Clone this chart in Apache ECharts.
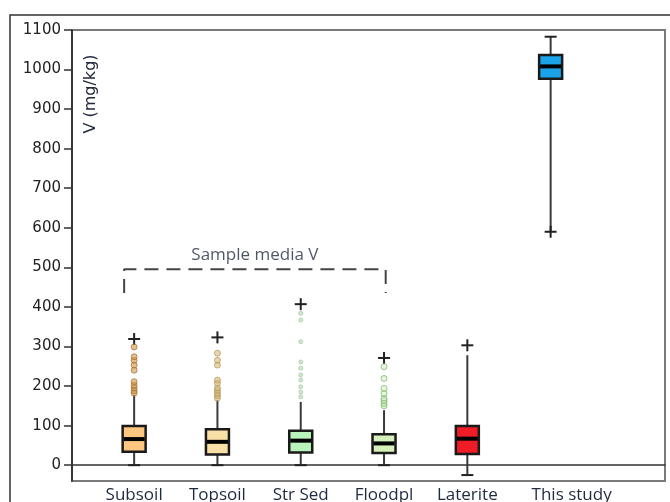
<!DOCTYPE html>
<html>
<head>
<meta charset="utf-8">
<title>V (mg/kg) by sample media</title>
<script src="https://cdn.jsdelivr.net/npm/echarts@6/dist/echarts.min.js"></script>
<style>
  html, body { margin: 0; padding: 0; background: #ffffff; }
  #chart { width: 670px; height: 502px; }
</style>
</head>
<body>
<div id="chart"></div>
<script>
// Sample media, in plotting order
const categories = ['Subsoil', 'Topsoil', 'Str Sed', 'Floodpl', 'Laterite', 'This study'];

// Box statistics for V (mg/kg)
const whiskerLow  = [0, 0, 0, 0, -25, 590];
const quartile1   = [34, 27, 32, 31, 28, 977];
const medians     = [66, 59, 62, 55, 67, 1008];
const quartile3   = [99, 91, 87, 78, 99, 1037];
const whiskerHigh = [177, 164, 160, 139, 278, 1083];
// Extreme values, drawn as '+'
const extremes    = [319, 323, 407, 271, 303, 590];

// Outlying samples above the whiskers
const subsoilOutliers  = [182, 188, 195, 202, 211, 240, 253, 265, 274, 299];
const topsoilOutliers  = [169, 176, 182, 189, 195, 207, 215, 253, 265, 283];
const strSedOutliers   = [173, 185, 198, 215, 228, 245, 261, 312, 367, 384];
const floodplOutliers  = [150, 156, 163, 169, 181, 194, 219, 249];

// Y axis tick labels
const yTicks = [0, 100, 200, 300, 400, 500, 600, 700, 800, 900, 1000, 1100];

// Bracket grouping the four regional sample media
const bracketLabel = 'Sample media V';
const bracketTop = 495;
const bracketFoot = 435;

const boxColors = ['#fdc57f', '#f8dfa6', '#b9f2bb', '#d6f0bb', '#ee1c25', '#1aa3e8'];
const outlierStyles = [
  { color: 'rgba(214,150,70,0.75)', border: 'rgba(150,100,40,0.8)', size: 6 },
  { color: 'rgba(215,180,110,0.7)', border: 'rgba(160,130,70,0.7)', size: 6 },
  { color: 'rgba(150,205,150,0.55)', border: 'rgba(110,170,110,0.5)', size: 4 },
  { color: 'rgba(200,235,180,0.6)', border: 'rgba(110,170,90,0.8)', size: 6 }
];
const textColor = '#1f2a40';

const pos = i => i + 1;   // category slot on the x value axis

const boxData = categories.map((c, i) => [
  pos(i), whiskerLow[i], quartile1[i], medians[i], quartile3[i], whiskerHigh[i], extremes[i], i
]);

const BOX_W = 23, CAP_W = 12, PLUS_W = 12;

function renderBox(params, api) {
  const x = api.value(0);
  const lo = api.value(1), q1 = api.value(2), md = api.value(3),
        q3 = api.value(4), hi = api.value(5), ext = api.value(6), idx = api.value(7);
  const p = v => api.coord([x, v]);
  const cx = p(md)[0];
  const yLo = p(lo)[1], yQ1 = p(q1)[1], yMd = p(md)[1], yQ3 = p(q3)[1], yHi = p(hi)[1], yExt = p(ext)[1];
  const half = BOX_W / 2;
  const whisker = { stroke: '#3a3a3a', lineWidth: 2 };
  const capY = ext > q3 ? yLo : yHi;
  return {
    type: 'group',
    children: [
      { type: 'line', shape: { x1: cx, y1: yLo, x2: cx, y2: yQ1 }, style: whisker },
      { type: 'line', shape: { x1: cx, y1: yQ3, x2: cx, y2: yHi }, style: whisker },
      { type: 'line', shape: { x1: cx - CAP_W / 2, y1: capY, x2: cx + CAP_W / 2, y2: capY }, style: { stroke: '#222', lineWidth: 2 } },
      { type: 'line', shape: { x1: cx - PLUS_W / 2, y1: yExt, x2: cx + PLUS_W / 2, y2: yExt }, style: { stroke: '#222', lineWidth: 2 } },
      { type: 'line', shape: { x1: cx, y1: yExt - PLUS_W / 2, x2: cx, y2: yExt + PLUS_W / 2 }, style: { stroke: '#222', lineWidth: 2 } },
      { type: 'rect', shape: { x: cx - half, y: yQ3, width: BOX_W, height: yQ1 - yQ3 },
        style: { fill: boxColors[idx], stroke: '#1a1a1a', lineWidth: 2.5 } },
      { type: 'line', shape: { x1: cx - half + 1, y1: yMd, x2: cx + half - 1, y2: yMd }, style: { stroke: '#000', lineWidth: 4 } }
    ]
  };
}

const outlierGroups = [subsoilOutliers, topsoilOutliers, strSedOutliers, floodplOutliers];
const outlierSeries = outlierGroups.map((vals, i) => ({
  type: 'scatter',
  z: 4,
  symbol: 'circle',
  symbolSize: outlierStyles[i].size,
  itemStyle: { color: outlierStyles[i].color, borderColor: outlierStyles[i].border, borderWidth: 1 },
  data: vals.map(v => [pos(i), v]),
  silent: true
}));

const bracketLeft = pos(0) - 0.12;
const bracketRight = pos(3) + 0.02;

const chart = echarts.init(document.getElementById('chart'), null, { renderer: 'canvas' });

chart.setOption({
  animation: false,
  backgroundColor: '#ffffff',
  grid: {
    left: 72, right: 5, top: 30, bottom: 21,
    outerBoundsMode: 'none', containLabel: false,
    show: true, borderColor: '#7a7a7a', borderWidth: 2
  },
  xAxis: {
    type: 'value',
    min: 0.254,
    max: 7.373,
    axisLine: { show: true, lineStyle: { color: '#333', width: 1.5 } },
    axisTick: { show: false },
    splitLine: { show: false },
    axisLabel: {
      customValues: categories.map((c, i) => pos(i)),
      margin: 6,
      fontFamily: 'Open Sans',
      fontSize: 17,
      color: textColor,
      formatter: v => {
        const name = categories[Math.round(v) - 1];
        return name === 'This study' ? '{far|' + name + '}' : name;
      },
      rich: { far: { padding: [0, 0, 0, 42], fontFamily: 'Open Sans', fontSize: 17, color: textColor } }
    }
  },
  yAxis: {
    type: 'value',
    min: -40,
    max: 1100,
    axisLine: { show: true, lineStyle: { color: '#222', width: 1.5 } },
    axisTick: { show: true, customValues: yTicks, length: 8, lineStyle: { color: '#333', width: 1.5 } },
    splitLine: { show: false },
    axisLabel: {
      customValues: yTicks,
      margin: 11,
      fontFamily: 'DejaVu Sans',
      fontSize: 15,
      color: '#222',
      formatter: v => String(v)
    }
  },
  graphic: [
    { type: 'rect', shape: { x: 10, y: 15, width: 720, height: 560 },
      style: { fill: null, stroke: '#333', lineWidth: 1.5 }, silent: true },
    { type: 'text', x: 91, y: 94, rotation: Math.PI / 2,
      style: { text: 'V (mg/kg)', fontFamily: 'DejaVu Sans', fontSize: 16, fill: '#222a3e',
               textAlign: 'center', textVerticalAlign: 'middle' } }
  ],
  series: [
    {
      type: 'line',
      z: 2,
      symbol: 'none',
      silent: true,
      lineStyle: { color: '#444', width: 2, type: [14, 8] },
      data: [[bracketLeft, bracketFoot], [bracketLeft, bracketTop], [bracketRight, bracketTop], [bracketRight, bracketFoot]]
    },
    {
      type: 'scatter',
      symbolSize: 0,
      silent: true,
      data: [[(bracketLeft + bracketRight) / 2, bracketTop]],
      label: {
        show: true, position: 'top', distance: 6, formatter: bracketLabel,
        fontFamily: 'Open Sans', fontSize: 17, color: textColor
      }
    },
    {
      type: 'custom',
      z: 3,
      renderItem: renderBox,
      data: boxData,
      encode: { x: 0, y: [1, 2, 3, 4, 5, 6] },
      silent: true
    },
    ...outlierSeries
  ]
});
</script>
</body>
</html>
